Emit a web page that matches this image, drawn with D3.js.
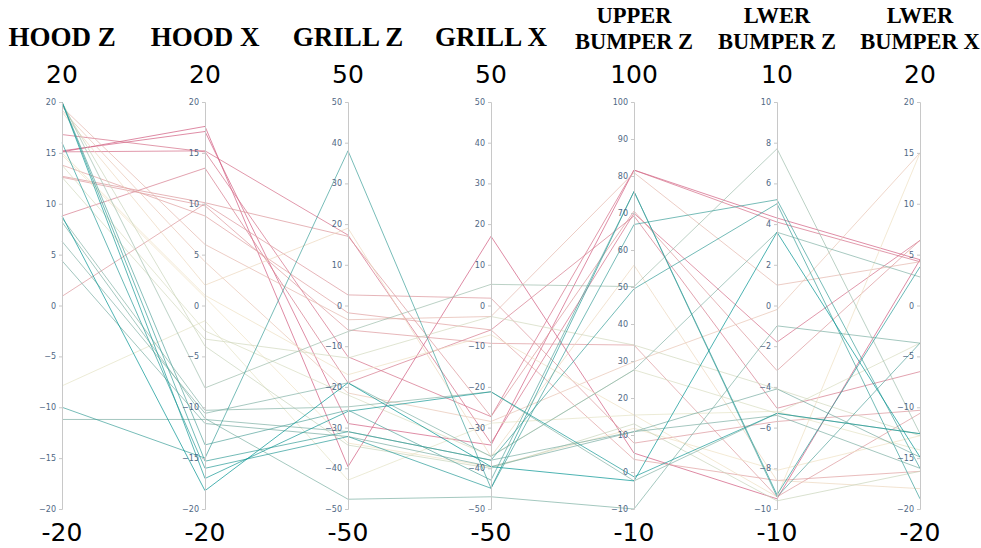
<!DOCTYPE html>
<html>
<head>
<meta charset="utf-8">
<script src="https://cdn.jsdelivr.net/npm/d3@7"></script>
<style>
  body { margin: 0; background: #fff; }
  svg { display: block; }
</style>
</head>
<body>
<svg id="chart"></svg>
<script>
// axis names (title lines) and ranges
const dimensions = ["HOOD Z", "HOOD X", "GRILL Z", "GRILL X", "UPPER BUMPER Z", "LWER BUMPER Z", "LWER BUMPER X"];
const titleLines = [["HOOD Z"], ["HOOD X"], ["GRILL Z"], ["GRILL X"], ["UPPER", "BUMPER Z"], ["LWER", "BUMPER Z"], ["LWER", "BUMPER X"]];
const rangeMin = [-20, -20, -50, -50, -10, -10, -20];
const rangeMax = [20, 20, 50, 50, 100, 10, 20];
const tickStep = [5, 5, 10, 10, 10, 2, 5];

// one value per measured part, per axis
const hoodZ = [15.1, 15.2, 16.8, 15.1, 12.7, 8.8, 0.9, 12.6, 13.8,
  19.5, 19.2, 19.0, 15.0, 14.8, -7.9, 13.8, 12.6, 19.8,
  20, 8.6, -11.2, 6.3, 4.4, 8.2, 20, -10, 20, 16, 20, 8.8];
const hoodX = [17.6, 17.1, 15.1, 15.2, 10.1, 13.5, 10.0, 9.8, 8.8,
  6.0, 4.3, 2.0, 1.0, 0.8, -1.5, -2.5, -3.3, -4.0,
  -8.1, -10.3, -11.2, -10.6, -11.6, -11.1, -13.7, -15.0, -15.3, -16.0, -17.0, -18.2];
const grillZ = [-39.6, -29, -12.6, 17.3, 17, -19, 2.6, -6, -1.8,
  -3.5, -21.5, 19, -17, -33.8, -42.9, -22, -12.9, -34.3,
  -6.4, -24.9, -31, -19, -32.2, -47.6, -25.7, 38, -31, -32.2, -26, -19];
const grillX = [17, -34.3, -27.3, -33.8, -27.3, -6, 1.8, -9.3, -6,
  -2.7, -28.5, -37.1, -7.2, -39.6, -28.9, -37, -2.7, -40,
  5.2, -21.2, -38, -37.1, -39.6, -47, -42.9, -44.9, -38, -44.9, -21.2, -39.6];
const upperBumperZ = [5.1, 81.6, 81.6, 69.9, 70.5, 69.2, 7.8, 34.3, 3.4,
  80.9, 29.8, 55.9, 15.4, 11.8, 15.4, 27.6, 34.3, 13,
  50.1, -2.4, 10.9, 27.6, 10.9, -10, 75.8, 66.9, 49.5, 75.8, -1.3, -2.4];
const lwerBumperZ = [-9.5, 4.3, 4.1, -1.8, -3.2, -5.05, -5.7, -9.4, -8.6,
  1.0, -0.2, -8.6, -9.4, -8.1, -5.2, -5.3, -4.1, -9.6,
  7.7, -5.3, -5.4, 3.6, -4.1, -1.0, -9.4, 5.2, 5.0, -9.3, -5.3, 3.6];
const lwerBumperX = [4.5, 4.5, 4.3, 6.4, 6.4, -6.5, -10.3, -10.6, -16.3,
  4.3, 15, -18, 15, -12.8, -14.2, -3.7, -12.8, -16.3,
  -12.6, -12.6, -16, 2.8, -14.9, -3.7, -3.7, -16, -19, 3.8, -12.6, -14.9];

const columns = [hoodZ, hoodX, grillZ, grillX, upperBumperZ, lwerBumperZ, lwerBumperX];
const rows = hoodZ.map((_, i) => columns.map(c => c[i]));

const tealrose = ["#009392", "#72aaa1", "#b1c7b3", "#f1eac8", "#e5b9ad", "#d98994", "#d0587e"];

const width = 981, height = 548;
const plotTop = 102, plotBottom = 509;

const svg = d3.select("#chart").attr("width", width).attr("height", height);

const x = d3.scalePoint().domain(dimensions).range([62, 920]);
const yScales = dimensions.map((d, i) =>
  d3.scaleLinear().domain([rangeMin[i], rangeMax[i]]).range([plotBottom, plotTop]));

const cMin = d3.min(hoodX), cMax = d3.max(hoodX);
const color = d3.scaleLinear()
  .domain(tealrose.map((c, i) => cMin + (cMax - cMin) * i / (tealrose.length - 1)))
  .range(tealrose);

const line = d3.line();

svg.append("g")
  .attr("fill", "none")
  .selectAll("path")
  .data(rows)
  .join("path")
  .attr("d", r => line(r.map((v, i) => [x(dimensions[i]), yScales[i](v)])))
  .attr("stroke", r => color(r[1]))
  .attr("stroke-width", 1)
  .attr("stroke-opacity", 0.7);

dimensions.forEach((dim, i) => {
  const g = svg.append("g").attr("transform", `translate(${x(dim)},0)`);
  const ticks = d3.range(rangeMin[i], rangeMax[i] + tickStep[i] / 2, tickStep[i]);

  g.append("g")
    .call(d3.axisLeft(yScales[i]).tickValues(ticks).tickSize(3).tickPadding(3))
    .call(a => a.select(".domain").attr("stroke", "#c8c8c8"))
    .call(a => a.selectAll(".tick line").attr("stroke", "#c8c8c8"))
    .call(a => a.selectAll(".tick text")
      .attr("fill", "#506784")
      .style("font-family", "'DejaVu Sans', sans-serif")
      .style("font-size", "8px"));

  // single-line titles are larger; wrapped ones shrink to fit
  const lines = titleLines[i];
  const title = g.append("text")
    .attr("text-anchor", "middle")
    .style("font-family", "'Liberation Serif', 'Times New Roman', serif")
    .style("font-weight", "bold")
    .style("font-size", lines.length === 1 ? "27px" : "22.5px")
    .attr("fill", "#000");
  lines.forEach((t, j) => {
    title.append("tspan")
      .attr("x", 0)
      .attr("y", lines.length === 1 ? 46 : 23 + j * 26)
      .text(t);
  });

  g.append("text")
    .attr("text-anchor", "middle")
    .attr("y", 83)
    .style("font-family", "'DejaVu Sans', sans-serif")
    .style("font-size", "25px")
    .text(rangeMax[i]);

  g.append("text")
    .attr("text-anchor", "middle")
    .attr("y", 541)
    .style("font-family", "'DejaVu Sans', sans-serif")
    .style("font-size", "25px")
    .text(String(rangeMin[i]));
});
</script>
</body>
</html>
